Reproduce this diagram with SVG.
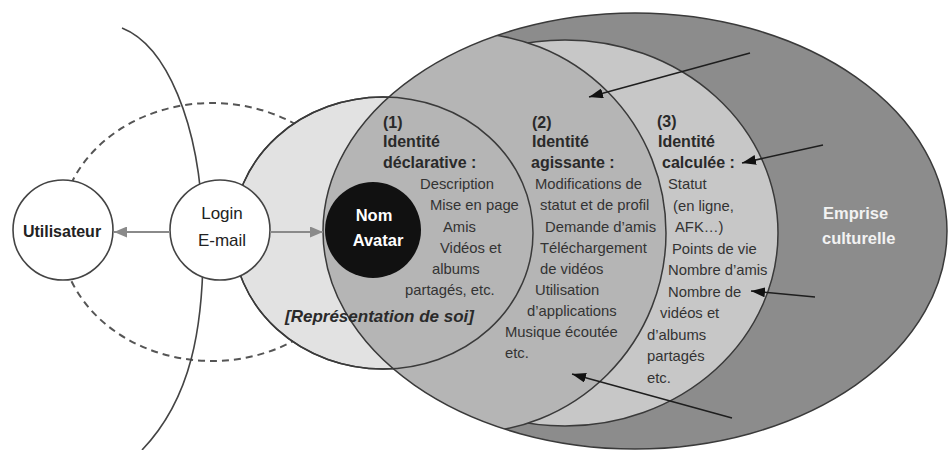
<svg xmlns="http://www.w3.org/2000/svg" width="948" height="450" viewBox="0 0 948 450">
  <defs>
    <style>
      text { font-family: "Liberation Sans", Arial, sans-serif; }
      .hdr { font-size: 16px; font-weight: bold; fill: #2a2a2a; }
      .body { font-size: 14.8px; fill: #333333; }
      .node { fill: #ffffff; stroke: #444444; stroke-width: 1.6; }
      .outline { fill: none; stroke: #3a3a3a; stroke-width: 1.5; }
      .ptr { fill: none; stroke: #1e1e1e; stroke-width: 1.5; }
      .gray { fill: none; stroke: #8a8a8a; stroke-width: 2.2; }
    </style>
    <clipPath id="outerClip">
      <ellipse cx="635" cy="231" rx="312" ry="218"/>
    </clipPath>
    <marker id="ah" viewBox="0 0 14 10" refX="14" refY="5" markerWidth="14" markerHeight="10" markerUnits="userSpaceOnUse" orient="auto">
      <path d="M0,0 L14,5 L0,10 Z" fill="#111111"/>
    </marker>
    <marker id="ahg" viewBox="0 0 13 11" refX="13" refY="5.5" markerWidth="13" markerHeight="11" markerUnits="userSpaceOnUse" orient="auto">
      <path d="M0,0 L13,5.5 L0,11 Z" fill="#8a8a8a"/>
    </marker>
  </defs>

  <rect width="948" height="450" fill="#ffffff"/>

  <!-- background boundaries -->
  <g id="boundaries">
    <ellipse cx="212" cy="232" rx="152" ry="129" fill="none" stroke="#555555" stroke-width="2" stroke-dasharray="7 5"/>
    <path d="M122,28 C165,45 200,120 203,230 C205,330 190,400 142,450" fill="none" stroke="#444444" stroke-width="1.6"/>
  </g>

  <!-- (1) representation region -->
  <g id="region-representation">
    <ellipse cx="383" cy="233" rx="150" ry="136" fill="#e2e2e2" stroke="#3a3a3a" stroke-width="1.5"/>
  </g>

  <!-- outer "emprise culturelle" with identity circles -->
  <g id="region-emprise">
    <ellipse cx="635" cy="231" rx="312" ry="218" fill="#8c8c8c"/>
    <g clip-path="url(#outerClip)">
      <g id="region-calculee">
        <ellipse cx="565" cy="233" rx="213" ry="193" fill="#c7c7c7" stroke="#3a3a3a" stroke-width="1.5"/>
      </g>
      <g id="region-agissante">
        <circle cx="466" cy="233" r="200" fill="#b5b5b5" stroke="#3a3a3a" stroke-width="1.5"/>
      </g>
    </g>
    <ellipse cx="635" cy="231" rx="312" ry="218" class="outline"/>
  </g>

  <g id="region-declarative">
    <ellipse cx="383" cy="233" rx="150" ry="136" class="outline"/>
  </g>

  <!-- nodes -->
  <g id="node-nom-avatar">
    <circle cx="373" cy="230" r="48" fill="#111111"/>
    <text x="374" y="221" text-anchor="middle" font-size="16.5" font-weight="bold" fill="#ffffff">Nom</text>
    <text x="378" y="246" text-anchor="middle" font-size="16.5" font-weight="bold" fill="#ffffff">Avatar</text>
  </g>

  <g id="node-utilisateur">
    <circle cx="63" cy="230" r="50" class="node"/>
    <text x="62" y="237" text-anchor="middle" font-size="16" font-weight="bold" fill="#222222">Utilisateur</text>
  </g>

  <g id="node-login">
    <circle cx="220" cy="230" r="50" class="node"/>
    <text x="222" y="219" text-anchor="middle" font-size="17" fill="#222222">Login</text>
    <text x="222" y="246" text-anchor="middle" font-size="17" fill="#222222">E-mail</text>
  </g>

  <!-- connectors -->
  <g id="connectors">
    <line x1="170" y1="232" x2="114" y2="232" class="gray" marker-end="url(#ahg)"/>
    <line x1="270" y1="232" x2="323" y2="232" class="gray" marker-end="url(#ahg)"/>
    <line x1="750" y1="53" x2="589" y2="97" class="ptr" marker-end="url(#ah)"/>
    <line x1="823" y1="145" x2="742" y2="163" class="ptr" marker-end="url(#ah)"/>
    <line x1="815" y1="297" x2="751" y2="291" class="ptr" marker-end="url(#ah)"/>
    <line x1="732" y1="418" x2="572" y2="374" class="ptr" marker-end="url(#ah)"/>
  </g>

  <!-- labels -->
  <g id="label-representation">
    <text x="285" y="322" font-size="17" font-weight="bold" font-style="italic" fill="#2a2a2a">[Représentation de soi]</text>
  </g>

  <g id="label-declarative">
    <text x="383" y="128" class="hdr">(1)</text>
    <text x="383" y="147" class="hdr">Identité</text>
    <text x="383" y="168" class="hdr">déclarative :</text>
    <text x="420" y="189" class="body">Description</text>
    <text x="430" y="210" class="body">Mise en page</text>
    <text x="443" y="232" class="body">Amis</text>
    <text x="440" y="253" class="body">Vidéos et</text>
    <text x="432" y="274" class="body">albums</text>
    <text x="405" y="295" class="body">partagés, etc.</text>
  </g>

  <g id="label-agissante">
    <text x="532" y="128" class="hdr">(2)</text>
    <text x="532" y="147" class="hdr">Identité</text>
    <text x="531" y="168" class="hdr">agissante :</text>
    <text x="535" y="189" class="body">Modifications de</text>
    <text x="540" y="210" class="body">statut et de profil</text>
    <text x="545" y="232" class="body">Demande d’amis</text>
    <text x="540" y="253" class="body">Téléchargement</text>
    <text x="540" y="274" class="body">de vidéos</text>
    <text x="535" y="295" class="body">Utilisation</text>
    <text x="527" y="316" class="body">d’applications</text>
    <text x="505" y="337" class="body">Musique écoutée</text>
    <text x="505" y="358" class="body">etc.</text>
  </g>

  <g id="label-calculee">
    <text x="657" y="127" class="hdr">(3)</text>
    <text x="658" y="147" class="hdr">Identité</text>
    <text x="662" y="168" class="hdr">calculée :</text>
    <text x="668" y="189" class="body">Statut</text>
    <text x="673" y="210.5" class="body">(en ligne,</text>
    <text x="675" y="232" class="body">AFK…)</text>
    <text x="672" y="253.5" class="body">Points de vie</text>
    <text x="668" y="275" class="body">Nombre d’amis</text>
    <text x="668" y="296.5" class="body">Nombre de</text>
    <text x="660" y="318" class="body">vidéos et</text>
    <text x="647" y="339.5" class="body">d’albums</text>
    <text x="647" y="361" class="body">partagés</text>
    <text x="647" y="382.5" class="body">etc.</text>
  </g>

  <g id="label-emprise">
    <text x="823" y="219" font-size="16.5" font-weight="bold" fill="#f2f2f2">Emprise</text>
    <text x="822" y="244" font-size="16.5" font-weight="bold" fill="#f2f2f2">culturelle</text>
  </g>
</svg>
